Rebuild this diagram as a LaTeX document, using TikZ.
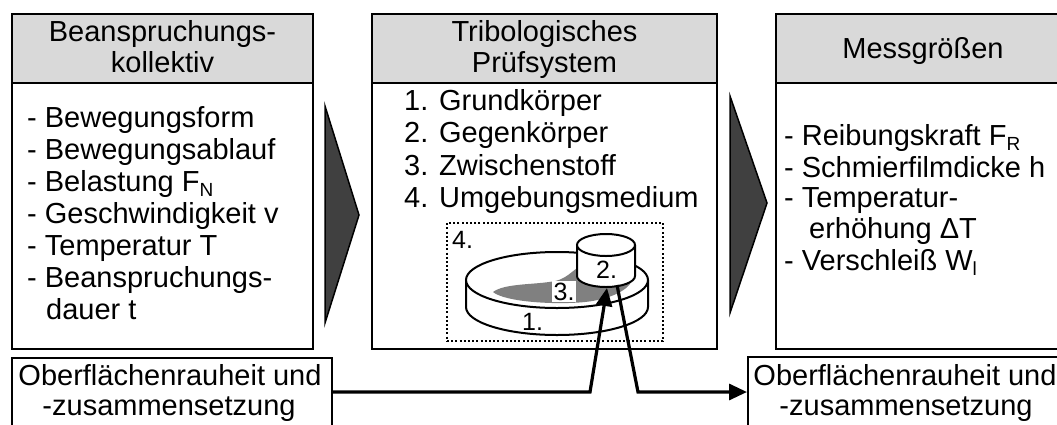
\documentclass[tikz,border=0pt]{standalone}
\usepackage{fontspec}
\setmainfont{Liberation Sans}
\usetikzlibrary{arrows.meta}
\definecolor{headgray}{RGB}{217,217,217}
\definecolor{arrowgray}{RGB}{64,64,64}
\definecolor{filmgray}{RGB}{128,128,128}
% lowered, smaller index letter
\newcommand\lowsub[1]{\raisebox{-5pt}{\fontsize{19}{19}\selectfont #1}}

\begin{document}
\begin{tikzpicture}[x=1pt,y=-1pt,
  box/.style={draw=black, line width=2pt, inner sep=0pt, fill=white},
  hdr/.style={box, fill=headgray},
  txt/.style={inner sep=0pt, font=\fontsize{29}{32}\selectfont, anchor=base west},
  ctxt/.style={txt, anchor=base},
  lbl/.style={inner sep=0pt, font=\fontsize{25}{25}\selectfont, anchor=base west},
  flow/.style={draw=black, line width=1.5pt, fill=arrowgray, line join=miter},
  part/.style={draw=black, line width=2pt, fill=white},
  conn/.style={line width=3.2pt, -{Triangle[length=18pt,width=16pt]}},
]
\useasboundingbox (0,0) rectangle (1057,424);
\clip (0,0) rectangle (1057,424);

% --- three main boxes: body and grey header ---
\node[box, minimum width=301pt, minimum height=266pt] (lb) at (162.5,216) {};
\node[hdr, minimum width=301pt, minimum height=69pt]  (lh) at (162.5,48.5) {};
\node[box, minimum width=345pt, minimum height=266pt] (mb) at (544.5,216) {};
\node[hdr, minimum width=345pt, minimum height=69pt]  (mh) at (544.5,48.5) {};
\node[box, minimum width=294pt, minimum height=266pt] (rb) at (923,216) {};
\node[hdr, minimum width=294pt, minimum height=69pt]  (rh) at (923,48.5) {};

% --- surface boxes below ---
\node[box, minimum width=320pt, minimum height=68pt] (bl) at (172,392) {};
\node[box, minimum width=314pt, minimum height=70pt] (br) at (905,392) {};

% --- flow triangles ---
\draw[flow] (325,106) -- (359,215) -- (325,323) -- cycle;
\draw[flow] (730,96) -- (767,203) -- (730,313) -- cycle;

% --- header texts ---
\node[ctxt] (lh1) at (162.5,41) {Beanspruchungs-};
\node[ctxt] (lh2) at (162.5,72) {kollektiv};
\node[ctxt] (mh1) at (544.5,41) {Tribologisches};
\node[ctxt] (mh2) at (544.5,72) {Prüfsystem};
\node[ctxt] (rh1) at (923,58) {Messgrößen};

% --- load parameters ---
\node[txt] (l1) at (27,127) {- Bewegungsform};
\node[txt] (l2) at (27,159) {- Bewegungsablauf};
\node[txt] (l3) at (27,191) {- Belastung F\lowsub{N}};
\node[txt] (l4) at (27,223) {- Geschwindigkeit v};
\node[txt] (l5) at (27,255) {- Temperatur T};
\node[txt] (l6) at (27,287) {- Beanspruchungs-};
\node[txt] (l7) at (46,319) {dauer t};

% --- system elements ---
\node[txt] (m1) at (404,110) {1. Grundkörper};
\node[txt] (m2) at (404,142) {2. Gegenkörper};
\node[txt] (m3) at (404,175) {3. Zwischenstoff};
\node[txt] (m4) at (404,207) {4. Umgebungsmedium};

% --- measured quantities ---
\node[txt] (r1) at (784,145) {- Reibungskraft F\lowsub{R}};
\node[txt] (r2) at (784,177) {- Schmierfilmdicke h};
\node[txt] (r3) at (784,207) {- Temperatur-};
\node[txt] (r4) at (809,238) {erhöhung ΔT};
\node[txt] (r5) at (784,270) {- Verschleiß W\lowsub{l}};

% --- surface box texts ---
\node[ctxt] (bl1) at (170,385) {Oberflächenrauheit und};
\node[ctxt] (bl2) at (169,415) {-zusammensetzung};
\node[ctxt] (br1) at (905,385) {Oberflächenrauheit und};
\node[ctxt] (br2) at (906,415) {-zusammensetzung};

% --- test rig sketch: environment frame ---
\node[draw=black, line width=2pt, dash pattern=on 2pt off 2.2pt, inner sep=0pt,
      minimum width=216pt, minimum height=118pt] (env) at (555,282) {};
\node[lbl] (n4) at (452,248) {4.};

% base body (disc)
\draw[part] (466,280) -- (466,307) arc[start angle=180, end angle=0, x radius=91, y radius=28] -- (648,280);
\draw[part] (557,280) ellipse [x radius=91, y radius=28];
% lubricant film
\fill[filmgray] (493,292) .. controls (505,283) and (535,285) .. (555,281)
  .. controls (570,278) and (574,266) .. (590,262) -- (632,280)
  .. controls (628,292) and (605,300) .. (585,302)
  .. controls (555,305) and (505,302) .. (493,292) -- cycle;
\node[lbl, fill=white, inner sep=1.5pt] (n3) at (552,300) {3.};
% counter body (cylinder)
\draw[part] (577,245) -- (577,276) arc[start angle=180, end angle=0, x radius=29, y radius=11] -- (635,245);
\draw[part] (606,245) ellipse [x radius=29, y radius=11];
\node[lbl] (n2) at (596,278) {2.};
\node[lbl] (n1) at (522,330) {1.};

% --- surface connectors ---
\coordinate (contact) at (607,288);
\coordinate (bendin) at (590,392);
\coordinate (leave) at (617,285);
\coordinate (bendout) at (638,392);
\draw[conn] (bl.east) -- (bendin) -- (contact);
\draw[conn] (leave) -- (bendout) -- (br.west);
\end{tikzpicture}
\end{document}
